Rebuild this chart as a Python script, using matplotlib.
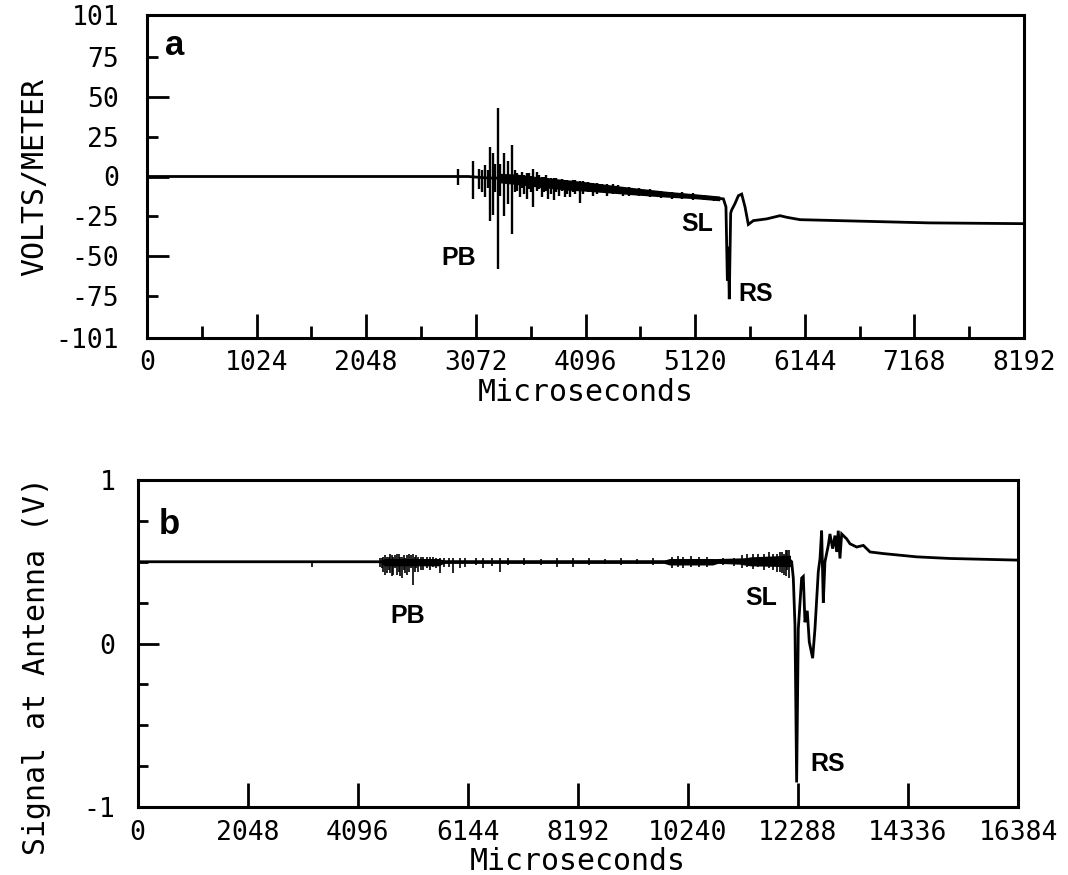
import matplotlib
matplotlib.use("Agg")
import matplotlib.pyplot as plt
from matplotlib.ticker import MultipleLocator, FixedLocator

########################################################################################################################
# panel a : field at ground (VOLTS/METER vs microseconds)
a_t = [0, 2880, 3000, 3100, 3200, 3276, 3350, 3450, 3700, 3920, 4230, 4540, 4850, 5170, 5320, 5384,
       5408, 5421, 5430, 5439, 5452, 5461, 5492, 5524, 5555, 5586, 5617, 5664, 5789, 5913, 5975,
       6100, 6700, 7300, 8192]
a_v = [0, 0, 0, -0.5, -1, -1, -1, -1.5, -3.5, -5, -7, -9, -11, -12.5, -13.5, -14,
       -19, -65, -44, -76.7, -23, -21, -17, -12, -11, -19, -30, -27.6, -26.5, -24.5, -25.5,
       -27, -28, -29, -29.5]

# noise band after PB
a_band_t = [3300, 3450, 3700, 3920, 4100, 4300, 4550, 4850, 5100, 5350]
a_band_hi = [2, 1.5, -0.5, -2, -3.3, -5, -7, -9.2, -10.7, -12.2]
a_band_lo = [-4, -5, -7, -8.5, -9.2, -10.2, -11.5, -12.9, -13.8, -15.2]

# single spikes (time, low, high)
a_spk_t = [2908, 3042, 3100, 3130, 3157, 3185, 3204, 3229, 3250, 3276, 3300, 3335, 3375, 3413, 3440,
           3460, 3484, 3500, 3520, 3547, 3565, 3585, 3609, 3640, 3660, 3687, 3710, 3730, 3749, 3775,
           3802, 3825, 3852, 3875, 3904, 3925, 3951, 3975, 4000, 4045, 4070, 4120, 4169, 4200, 4250,
           4294, 4350, 4400, 4449, 4500, 4600, 4700, 4800, 4900, 5000, 5100, 5200, 5300]
a_spk_lo = [-5.6, -14, -8, -10, -13, -7, -27.6, -24, -10, -58, -12, -24.5, -17, -36, -10,
            -9, -13, -7, -11, -14, -8, -10, -19.2, -9, -8, -13, -10, -9, -14, -11,
            -14.5, -10, -12.5, -9, -13, -11, -13, -10, -11, -16.5, -11, -10, -12, -11, -10,
            -12, -11, -10.5, -12, -12, -12.5, -13, -13.5, -14, -14, -14.5, -15, -15.5]
a_spk_hi = [4.8, 10, 5, 4, 7, 4, 18.4, 15, 8, 43, 8, 15, 10, 19.4, 4,
            2, 1, 3, 1, 2, 2, 0.5, 5, 3, 1, 0, 0, 1, -1, -1,
            -1, -1, -2, -1.5, -2, -2, -3, -2.5, -2, -3, -3, -3.5, -4, -4, -4.5,
            -5, -5, -5.5, -7, -6.5, -7, -8, -9, -9.5, -10, -10.5, -11.5, -12]

a_xticks = [0, 1024, 2048, 3072, 4096, 5120, 6144, 7168, 8192]
a_yticks = [-101, -75, -50, -25, 0, 25, 50, 75, 101]
a_ylabels = ["-101", "-75", "-50", "-25", "0", "25", "50", "75", "101"]

########################################################################################################################
# panel b : signal at antenna (V)
b_t = [0, 9800, 11000, 12110, 12172, 12203, 12234, 12265, 12296, 12358, 12389, 12420, 12463, 12500,
       12563, 12606, 12668, 12700, 12730, 12761, 12792, 12854, 12885, 12935, 12978, 13010, 13040,
       13071, 13103, 13196, 13258, 13382, 13506, 13630, 13878, 14498, 15118, 16384]
b_v = [0.5, 0.5, 0.51, 0.52, 0.50, 0.40, 0.11, -0.85, 0.09, 0.40, 0.41, 0.13, 0.20, 0.01,
       -0.09, 0.09, 0.44, 0.52, 0.69, 0.25, 0.50, 0.60, 0.67, 0.58, 0.66, 0.56, 0.69,
       0.52, 0.67, 0.64, 0.61, 0.59, 0.60, 0.56, 0.55, 0.53, 0.52, 0.51]

b_band_t = [4500, 4600, 5600, 5700, 9800, 9900, 10700, 10800, 11200, 11400, 12150]
b_band_hi = [0.5, 0.52, 0.52, 0.51, 0.51, 0.52, 0.52, 0.51, 0.515, 0.53, 0.54]
b_band_lo = [0.5, 0.475, 0.475, 0.49, 0.49, 0.48, 0.48, 0.49, 0.485, 0.475, 0.47]

b_spk_t = [3241, 4520, 4543, 4560, 4600, 4636, 4680, 4700, 4729, 4760, 4790, 4822, 4860, 4880,
           4916, 4950, 4980, 5009, 5060, 5090, 5128, 5160, 5190, 5225, 5270, 5318, 5380, 5442,
           5500, 5560, 5629, 5700, 5800, 5876, 6001, 6100, 6300, 6434, 6600, 6745, 6900, 7200,
           7500, 7800, 8109, 8400, 8700, 9000, 9300, 9600, 9950, 10050, 10150, 10300, 10450,
           10600, 10900, 11100, 11250, 11350, 11450, 11550, 11650, 11750, 11820, 11900, 11960,
           12000, 12030, 12060, 12090, 12120]
b_spk_lo = [0.47, 0.47, 0.46, 0.44, 0.42, 0.43, 0.45, 0.43, 0.41, 0.42, 0.46, 0.42, 0.44, 0.41,
            0.40, 0.45, 0.43, 0.42, 0.44, 0.46, 0.36, 0.44, 0.46, 0.44, 0.45, 0.45, 0.46, 0.45,
            0.47, 0.46, 0.43, 0.47, 0.47, 0.43, 0.46, 0.47, 0.48, 0.46, 0.475, 0.44, 0.48, 0.48,
            0.48, 0.47, 0.47, 0.48, 0.485, 0.48, 0.485, 0.48, 0.46, 0.47, 0.46, 0.465, 0.47,
            0.465, 0.48, 0.475, 0.46, 0.47, 0.455, 0.465, 0.45, 0.46, 0.45, 0.44, 0.44,
            0.43, 0.42, 0.41, 0.45, 0.40]
b_spk_hi = [0.5, 0.52, 0.52, 0.53, 0.54, 0.53, 0.53, 0.55, 0.54, 0.53, 0.54, 0.55, 0.55, 0.53,
            0.53, 0.54, 0.52, 0.54, 0.55, 0.54, 0.55, 0.53, 0.54, 0.53, 0.53, 0.53, 0.53, 0.53,
            0.53, 0.52, 0.52, 0.52, 0.52, 0.52, 0.52, 0.52, 0.52, 0.52, 0.52, 0.52, 0.52, 0.52,
            0.515, 0.52, 0.52, 0.52, 0.515, 0.52, 0.515, 0.52, 0.53, 0.535, 0.53, 0.535, 0.53,
            0.53, 0.52, 0.525, 0.54, 0.55, 0.545, 0.55, 0.55, 0.56, 0.55, 0.55, 0.56,
            0.56, 0.55, 0.57, 0.57, 0.57]

b_xticks = [0, 2048, 4096, 6144, 8192, 10240, 12288, 14336, 16384]
b_yticks = [-1, 0, 1]

########################################################################################################################
MONO = "DejaVu Sans Mono"
SANS = "Liberation Sans"
LW = 2.0

fig = plt.figure(figsize=(10.68, 8.75), dpi=100)
axA = fig.add_axes([147 / 1068, 1 - 338 / 875, 877 / 1068, 323 / 875])
axB = fig.add_axes([137.5 / 1068, 1 - 807 / 875, 880.5 / 1068, 327 / 875])


def style_axes(ax):
    for s in ax.spines.values():
        s.set_linewidth(2.2)
    ax.tick_params(which="both", direction="in", top=False, right=False, width=2.0, colors="black")
    for lab in ax.get_xticklabels() + ax.get_yticklabels():
        lab.set_fontfamily(MONO)


# ---------------- panel a
axA.plot(a_t, a_v, color="black", lw=LW, solid_joinstyle="miter")
axA.fill_between(a_band_t, a_band_lo, a_band_hi, color="black", lw=0)
axA.vlines(a_spk_t, a_spk_lo, a_spk_hi, color="black", lw=1.7)
axA.set_xlim(0, 8192)
axA.set_ylim(-101, 101)
axA.xaxis.set_major_locator(FixedLocator(a_xticks))
axA.xaxis.set_minor_locator(MultipleLocator(512))
axA.set_yticks(a_yticks)
axA.set_yticklabels(a_ylabels)
style_axes(axA)
axA.tick_params(axis="x", which="major", length=17, labelsize=19, pad=9)
axA.tick_params(axis="x", which="minor", length=9)
axA.tick_params(axis="y", which="major", length=16, labelsize=19, pad=20)
# short ticks at +-25, +-75
for tk, val in zip(axA.yaxis.get_major_ticks(), a_yticks):
    if val in (-75, -25, 25, 75):
        tk.tick1line.set_markersize(8)
axA.set_xlabel("Microseconds", fontfamily=MONO, fontsize=21.5, labelpad=1)
axA.set_ylabel("VOLTS/METER", fontfamily=MONO, fontsize=21.5)
axA.yaxis.set_label_coords(-0.111, 0.5)
axA.text(0.021, 0.905, "a", transform=axA.transAxes, fontfamily=SANS, fontsize=25,
         fontweight="bold", ha="left", va="center")
axA.text(2750, -51, "PB", fontfamily=SANS, fontsize=18, fontweight="bold", ha="left", va="center")
axA.text(4995, -30, "SL", fontfamily=SANS, fontsize=18, fontweight="bold", ha="left", va="center")
axA.text(5521, -73.4, "RS", fontfamily=SANS, fontsize=18, fontweight="bold", ha="left", va="center")

# ---------------- panel b
axB.plot(b_t, b_v, color="black", lw=LW, solid_joinstyle="miter")
axB.fill_between(b_band_t, b_band_lo, b_band_hi, color="black", lw=0)
axB.vlines(b_spk_t, b_spk_lo, b_spk_hi, color="black", lw=1.2)
axB.set_xlim(0, 16384)
axB.set_ylim(-1, 1)
axB.set_xticks(b_xticks)
axB.set_yticks(b_yticks)
axB.set_yticklabels(["-1", "0", "1"])
axB.yaxis.set_minor_locator(MultipleLocator(0.25))
style_axes(axB)
axB.tick_params(axis="x", which="major", length=17, labelsize=19, pad=9)
axB.tick_params(axis="y", which="major", length=15, labelsize=19, pad=16)
axB.tick_params(axis="y", which="minor", length=7)
axB.set_xlabel("Microseconds", fontfamily=MONO, fontsize=21.5, labelpad=1)
axB.set_ylabel("Signal at Antenna (V)", fontfamily=MONO, fontsize=21.5)
axB.yaxis.set_label_coords(-0.098, 0.43)
axB.text(0.024, 0.865, "b", transform=axB.transAxes, fontfamily=SANS, fontsize=25,
         fontweight="bold", ha="left", va="center")
axB.text(4698, 0.17, "PB", fontfamily=SANS, fontsize=18, fontweight="bold", ha="left", va="center")
axB.text(11304, 0.28, "SL", fontfamily=SANS, fontsize=18, fontweight="bold", ha="left", va="center")
axB.text(12513, -0.74, "RS", fontfamily=SANS, fontsize=18, fontweight="bold", ha="left", va="center")

fig.savefig("out.png", dpi=100)
